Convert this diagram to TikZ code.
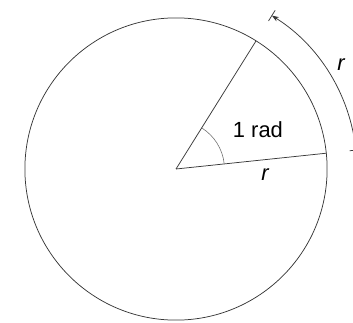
\documentclass[tikz,border=0pt]{standalone}
\usepackage{fontspec}
\setmainfont{Liberation Sans}
\usetikzlibrary{arrows.meta}
\tikzset{
  ink/.style={draw=black!78, line width=0.75pt},
  anglemark/.style={draw=black!55, line width=0.6pt},
  lbl/.style={font=\fontsize{22}{26}\selectfont, inner sep=0pt},
  rlbl/.style={font=\fontsize{22}{26}\selectfont\itshape, inner sep=0pt}
}
\begin{document}
\begin{tikzpicture}
        \def\rS{5.33}
        \def\oS{6.38}
        \def\aS{1.71}
        \def\tS{0.22}
        % 画布范围
        \clip (-6.208,-5.397) rectangle (6.243,5.961);
        % 圆心与半径端点
        \coordinate (O) at (0,0);
        \coordinate (A) at (6:\rS);
        \coordinate (B) at (58:\rS);
        % 绘制圆
        \draw[ink] (O) circle (\rS cm);
        \draw[ink] (O) -- (A);
        \draw[ink] (O) -- (B);
        % 角标记
        \draw[anglemark] (6:\aS) arc[start angle=6, end angle=58, radius=\aS];
        % 外侧弧长（长度为 r）
        \draw[ink, -{Stealth[length=7pt, width=5pt]}] (6:\oS) arc[start angle=6, end angle=58, radius=\oS];
        \draw[ink] (6:{\oS-\tS}) -- (6:{\oS+\tS});
        \draw[ink] (58:{\oS-\tS}) -- (58:{\oS+\tS});
        % 标注
        \node[lbl] (rad) at (2.89,1.38) {1 rad};
        \node[rlbl] (rin) at (3.14,-0.21) {r};
        \node[rlbl] (rout) at (5.82,3.67) {r};
\end{tikzpicture}
\end{document}
